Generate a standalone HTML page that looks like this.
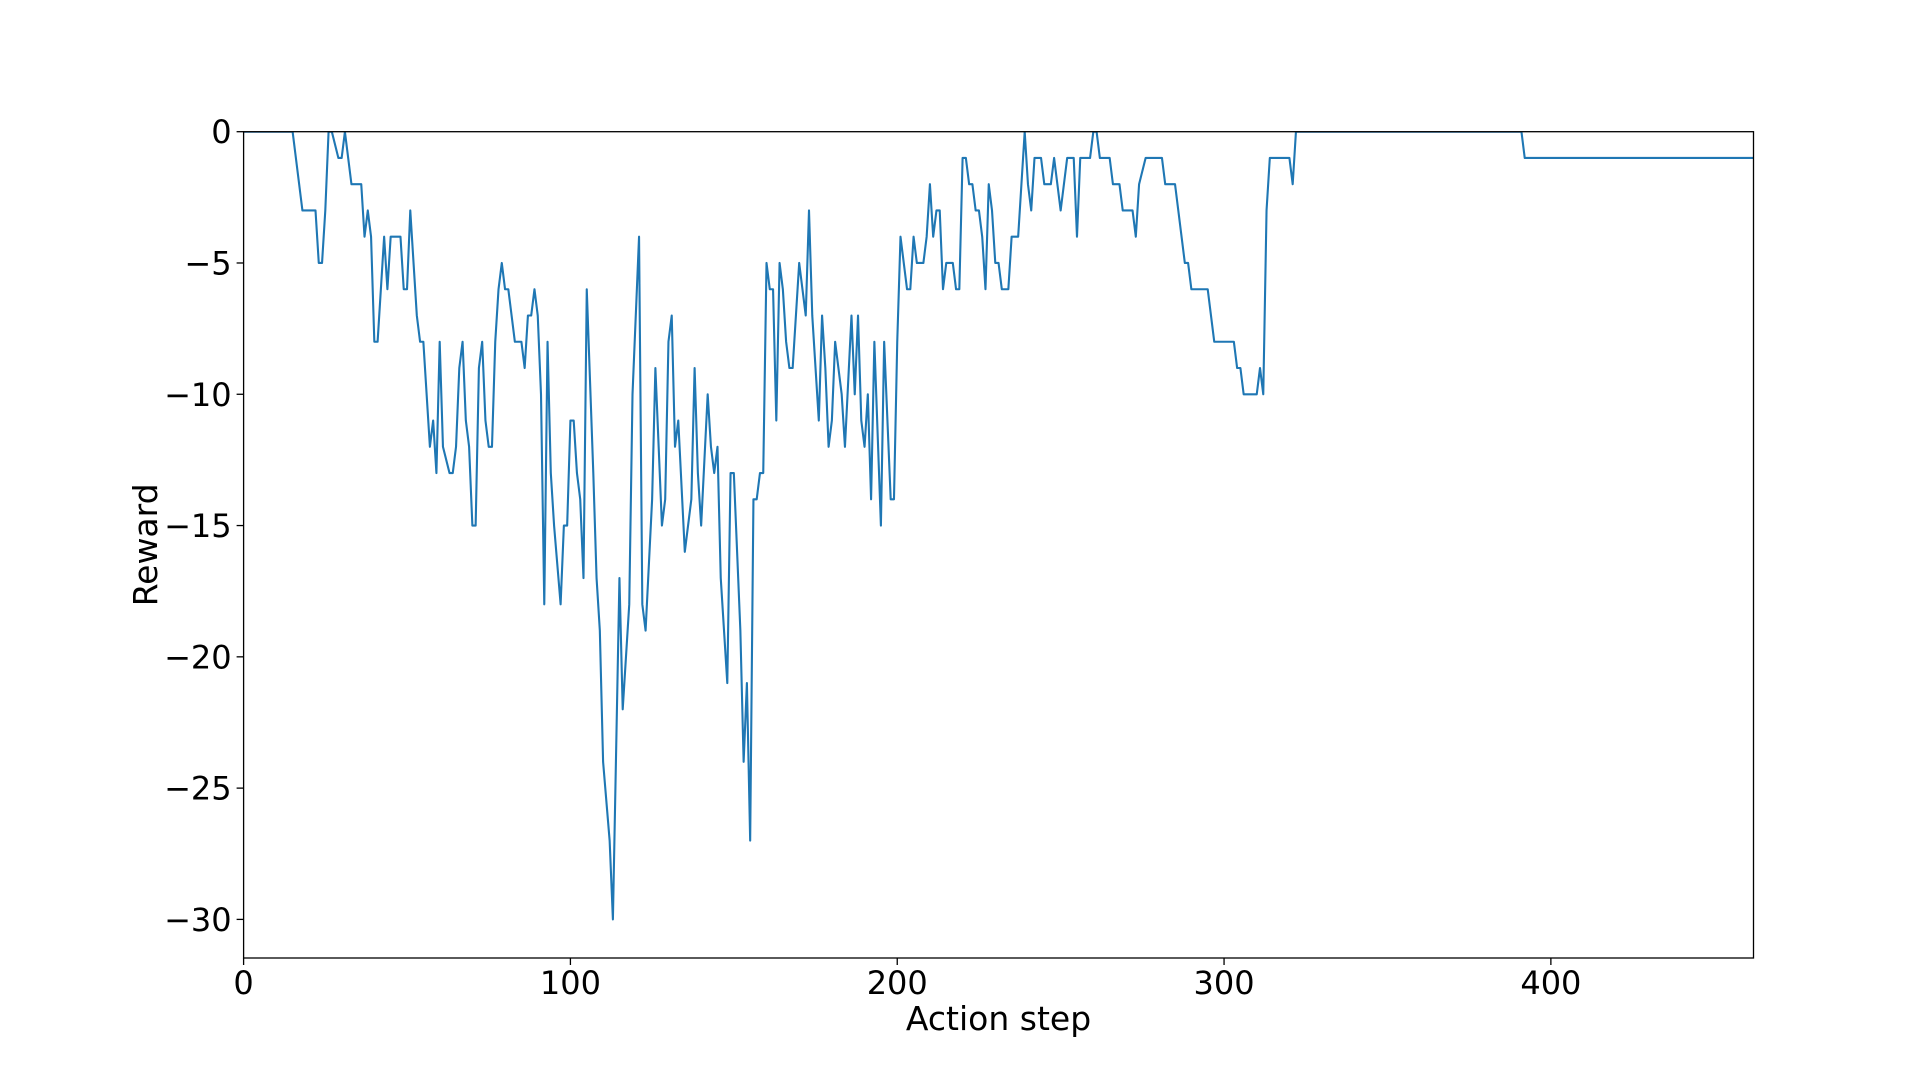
<!DOCTYPE html>
<html><head><meta charset="utf-8"><style>
html,body{margin:0;padding:0;background:#fff;}
svg{display:block;font-family:"DejaVu Sans","Liberation Sans",sans-serif;}
</style></head><body>
<svg id="chart" width="1920" height="1080" viewBox="0 0 1920 1080" xmlns="http://www.w3.org/2000/svg">
<rect width="1920" height="1080" fill="#fff"/>
<g id="plot"></g>
</svg>
<script>
const steps = [0,15,18,22,23,24,25,26,27,29,30,31,33,36,37,38,39,40,41,43,44,45,48,49,50,51,53,54,55,57,58,59,60,61,63,64,65,66,67,68,69,70,71,72,73,74,75,76,77,78,79,80,81,83,85,86,87,88,89,90,91,92,93,94,95,97,98,99,100,101,102,103,104,105,107,108,109,110,112,113,115,116,118,119,121,122,123,125,126,127,128,129,130,131,132,133,135,136,137,138,139,140,142,143,144,145,146,148,149,150,151,152,153,154,155,156,157,158,159,160,161,162,163,164,165,166,167,168,170,171,172,173,174,176,177,178,179,180,181,182,183,184,186,187,188,189,190,191,192,193,195,196,198,199,200,201,202,203,204,205,206,208,209,210,211,212,213,214,215,217,218,219,220,221,222,223,224,225,226,227,228,229,230,231,232,234,235,237,238,239,240,241,242,244,245,247,248,249,250,252,254,255,256,259,260,261,262,265,266,268,269,272,273,274,276,281,282,285,286,288,289,290,295,297,303,304,305,306,310,311,312,313,314,320,321,322,391,392,462];
const rewards = [0,0,-3,-3,-5,-5,-3,0,0,-1,-1,0,-2,-2,-4,-3,-4,-8,-8,-4,-6,-4,-4,-6,-6,-3,-7,-8,-8,-12,-11,-13,-8,-12,-13,-13,-12,-9,-8,-11,-12,-15,-15,-9,-8,-11,-12,-12,-8,-6,-5,-6,-6,-8,-8,-9,-7,-7,-6,-7,-10,-18,-8,-13,-15,-18,-15,-15,-11,-11,-13,-14,-17,-6,-13,-17,-19,-24,-27,-30,-17,-22,-18,-10,-4,-18,-19,-14,-9,-12,-15,-14,-8,-7,-12,-11,-16,-15,-14,-9,-13,-15,-10,-12,-13,-12,-17,-21,-13,-13,-16,-19,-24,-21,-27,-14,-14,-13,-13,-5,-6,-6,-11,-5,-6,-8,-9,-9,-5,-6,-7,-3,-7,-11,-7,-9,-12,-11,-8,-9,-10,-12,-7,-10,-7,-11,-12,-10,-14,-8,-15,-8,-14,-14,-8,-4,-5,-6,-6,-4,-5,-5,-4,-2,-4,-3,-3,-6,-5,-5,-6,-6,-1,-1,-2,-2,-3,-3,-4,-6,-2,-3,-5,-5,-6,-6,-4,-4,-2,0,-2,-3,-1,-1,-2,-2,-1,-2,-3,-1,-1,-4,-1,-1,0,0,-1,-1,-2,-2,-3,-3,-4,-2,-1,-1,-2,-2,-3,-5,-5,-6,-6,-8,-8,-9,-9,-10,-10,-9,-10,-3,-1,-1,-2,0,0,-1,-1];
const xTicks = [0,100,200,300,400];
const yTicks = [0,-5,-10,-15,-20,-25,-30];

const L=243.6,R=1753.5,T=131.7,B=958;
const xMin=0,xMax=462,yMin=-31.47,yMax=0;
const xs=v=>L+(v-xMin)/(xMax-xMin)*(R-L);
const ys=v=>T+(yMax-v)/(yMax-yMin)*(B-T);
const NS='http://www.w3.org/2000/svg';
const g=document.getElementById('plot');
function mk(tag,attrs){const e=document.createElementNS(NS,tag);for(const k in attrs)e.setAttribute(k,attrs[k]);g.appendChild(e);return e;}

const defs=mk('defs',{});
const cp=document.createElementNS(NS,'clipPath');cp.setAttribute('id','clip');
const cr=document.createElementNS(NS,'rect');cr.setAttribute('x',L);cr.setAttribute('y',T);cr.setAttribute('width',R-L);cr.setAttribute('height',B-T);
cp.appendChild(cr);defs.appendChild(cp);

let d='';
for(let i=0;i<steps.length;i++){d+=(i?'L':'M')+xs(steps[i]).toFixed(2)+','+ys(rewards[i]).toFixed(2);}
const line=mk('path',{d:d,fill:'none',stroke:'#1f77b4','stroke-width':2.1,'stroke-linejoin':'round','clip-path':'url(#clip)'});



const frame=mk('rect',{x:L,y:T,width:R-L,height:B-T,fill:'none',stroke:'#000','stroke-width':1.3});



xTicks.forEach(v=>{
  const x=xs(v);
  const t=mk('line',{x1:x,x2:x,y1:B,y2:B+7,stroke:'#000','stroke-width':1.3});
  
  
  const tx=mk('text',{x:x,y:B+36,'text-anchor':'middle','font-size':32,fill:'#000'});
  tx.textContent=String(v);
  
  
});
yTicks.forEach(v=>{
  const y=ys(v);
  const t=mk('line',{x1:L-7,x2:L,y1:y,y2:y,stroke:'#000','stroke-width':1.3});
  
  
  const tx=mk('text',{x:L-12,y:y+11.5,'text-anchor':'end','font-size':32,fill:'#000'});
  tx.textContent=v<0?'\u2212'+Math.abs(v):String(v);
  
  
});
const xl=mk('text',{x:(L+R)/2,y:1030,'text-anchor':'middle','font-size':33,fill:'#000'});
xl.textContent='Action step';


const yl=mk('text',{x:0,y:0,'text-anchor':'middle','font-size':33,fill:'#000',transform:'translate(157,'+((T+B)/2)+') rotate(-90)'});
yl.textContent='Reward';


</script>
</body></html>
